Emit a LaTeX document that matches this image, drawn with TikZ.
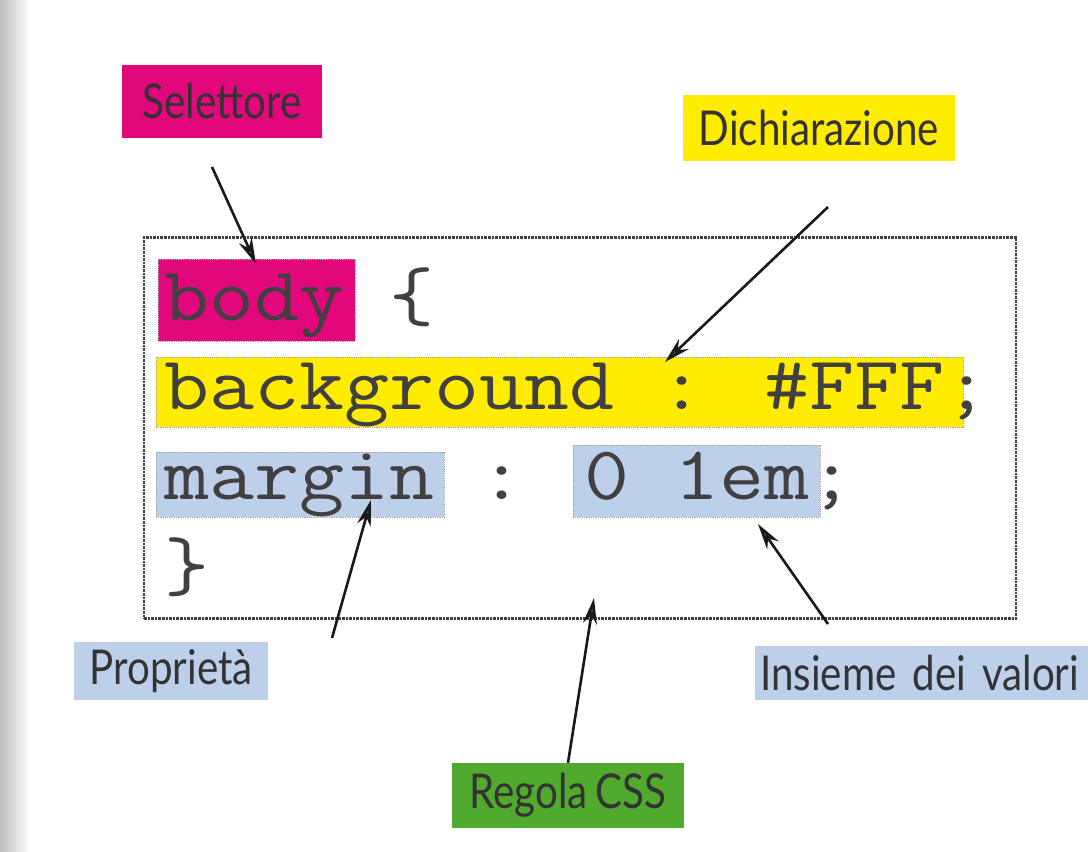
\documentclass[tikz,border=0pt]{standalone}
\usepackage{fontspec}
\setmainfont{Lato}[FakeStretch=0.84, WordSpace=0.75]
\usetikzlibrary{arrows.meta}
\definecolor{mag}{HTML}{E2087C}
\definecolor{yel}{HTML}{FFEC00}
\definecolor{lblue}{HTML}{BDD0EA}
\definecolor{grn}{HTML}{4FAA2E}
\definecolor{ink}{HTML}{333333}
\newcommand{\cw}[1]{\scalebox{1.15}[1]{#1}}
\tikzset{
  lbl/.style={inner sep=0pt, text=ink, font=\fontsize{48}{52}\selectfont},
  hl/.style={draw=black!35, densely dotted, line width=0.8pt, inner sep=0pt},
  code/.style={inner sep=0pt, anchor=base west, text=black!75, font=\ttfamily\fontsize{76}{80}\selectfont},
  arr/.style={line width=2.6pt, black!90, -{Stealth[length=26pt,width=14pt,fill=black!70]}},
}
\begin{document}
\begin{tikzpicture}[x=1pt,y=-1pt]
\useasboundingbox (0,0) rectangle (1088,852);
\fill[white] (0,0) rectangle (1088,852);
\shade[left color=black!25, right color=white] (0,0) rectangle (30,852);
% main rule box
\node[draw=black!75, densely dotted, line width=2.6pt, minimum width=872pt, minimum height=381pt, inner sep=0pt] (rule) at (580,428) {};
% highlights
\node[hl, fill=mag, minimum width=197pt, minimum height=82pt] (bodyhl) at (256.5,300) {};
\node[hl, fill=yel, minimum width=807pt, minimum height=70pt] (bghl) at (559.5,392) {};
\node[hl, fill=lblue, minimum width=288pt, minimum height=65pt] (marghl) at (300,484.5) {};
\node[hl, fill=lblue, minimum width=247pt, minimum height=72pt] (valhl) at (696.5,481) {};
% code text
\node[code] (l1) at (164,320) {\cw{body \{}};
\node[code] (l2) at (164,409) {\cw{background : \#FFF;}};
\node[code] (l3) at (164,499) {\cw{margin : 0 1em;}};
\node[code] (l4) at (164,590) {\cw{\}}};
% labels
\node[lbl, fill=mag, minimum width=200pt, minimum height=73pt] (sel) at (222,101.5) {Selettore};
\node[lbl, fill=yel, minimum width=272pt, minimum height=66pt] (dich) at (819,128) {Dichiarazione};
\node[lbl, fill=lblue, minimum width=194pt, minimum height=58pt] (prop) at (171,671) {Propriet\`a};
\node[lbl, fill=lblue, minimum width=333pt, minimum height=54pt, anchor=west, text width=323pt, align=left] (ins) at (755,673) {Insieme dei valori};
\node[lbl, fill=grn, minimum width=232pt, minimum height=65pt] (reg) at (568,795.5) {Regola CSS};
% arrow endpoints
\coordinate (s1) at (212,167);
\coordinate (s2) at (256,264);
\coordinate (d1) at (828,207);
\coordinate (d2) at (665,362);
\coordinate (p1) at (332,638);
\coordinate (p2) at (371,500);
\coordinate (i1) at (828,624);
\coordinate (i2) at (758,524);
\coordinate (r2) at (594,598);
% arrows
\draw[arr] (s1) -- (s2);
\draw[arr] (d1) -- (d2);
\draw[arr] (p1) -- (p2);
\draw[arr] (i1) -- (i2);
\draw[arr] (reg.north -| 568,0) -- (r2);
\end{tikzpicture}
\end{document}
